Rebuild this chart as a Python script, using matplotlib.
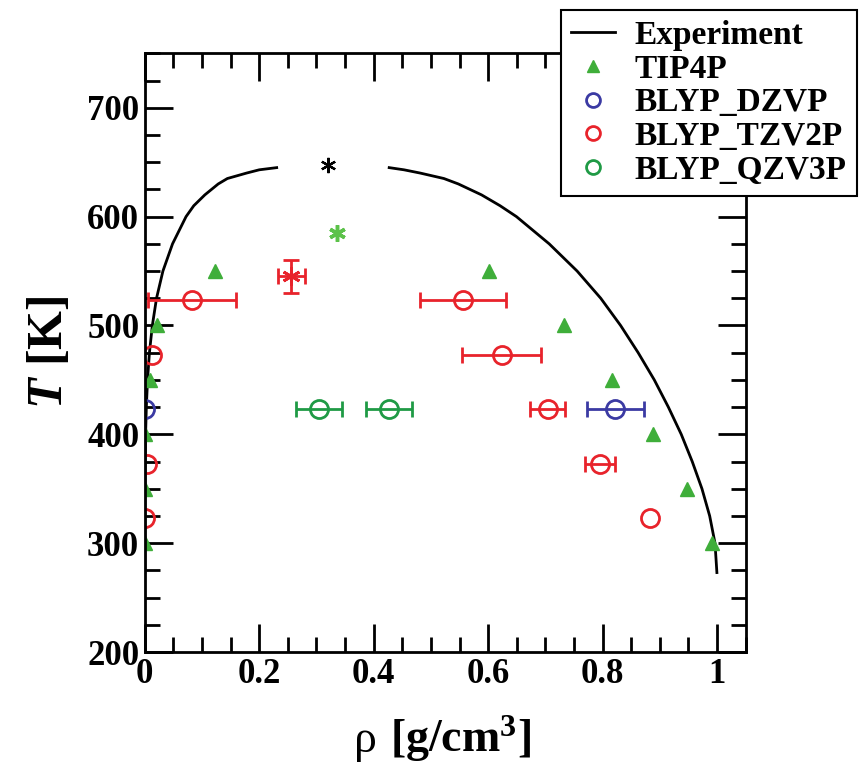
import numpy as np
import matplotlib.pyplot as plt
from matplotlib.ticker import MultipleLocator, FormatStrFormatter
from matplotlib.lines import Line2D

plt.rcParams['font.family'] = ['Liberation Serif', 'DejaVu Serif']
plt.rcParams['font.weight'] = 'bold'
plt.rcParams['mathtext.fontset'] = 'custom'
plt.rcParams['mathtext.rm'] = 'Liberation Serif:bold'
plt.rcParams['mathtext.it'] = 'Liberation Serif:italic:bold'

# experimental coexistence curve (liquid / vapour branches)
exp_T = [273, 300, 325, 350, 375, 400, 425, 450, 475, 500, 525, 550, 575,
         600, 610, 620, 630, 635, 640, 643, 645]
exp_liq = [0.9998, 0.9965, 0.9872, 0.9737, 0.9567, 0.9375, 0.9150, 0.8904,
           0.8622, 0.8315, 0.7968, 0.7555, 0.7067, 0.6495, 0.6209, 0.5884,
           0.5480, 0.5227, 0.4814, 0.4530, 0.4271]
exp_vap = [0.0, 0.00003, 0.0001, 0.0003, 0.0007, 0.0014, 0.0027, 0.0048,
           0.0081, 0.0132, 0.0205, 0.0317, 0.0485, 0.0721, 0.0856, 0.1050,
           0.1283, 0.1443, 0.1778, 0.2000, 0.2305]
exp_crit = (0.32, 647)

# TIP4P
tip_rho = [0.0, 0.0, 0.0, 0.009, 0.021, 0.122, 0.601, 0.732, 0.817, 0.888, 0.948, 0.992]
tip_T = [300, 350, 400, 450, 500, 550, 550, 500, 450, 400, 350, 300]
tip_crit = (0.336, 585)

# BLYP_DZVP
dzvp_rho = [0.0]
dzvp_T = [423]
dzvp_eb_rho = [0.822]
dzvp_eb_T = [423]
dzvp_eb_err = [0.05]

# BLYP_TZV2P
tzv_rho = [0.0, 0.003, 0.012, 0.883]
tzv_T = [323, 373, 473, 323]
tzv_eb_rho = [0.082, 0.556, 0.624, 0.704, 0.796]
tzv_eb_T = [523, 523, 473, 423, 373]
tzv_eb_err = [0.077, 0.075, 0.069, 0.031, 0.026]
tzv_crit = (0.256, 545)
tzv_crit_xerr = 0.024
tzv_crit_yerr = 15

# BLYP_QZV3P
qzv_rho = [0.305, 0.427]
qzv_T = [423, 423]
qzv_err = [0.04, 0.04]

red = '#e8232b'
blue = '#3b3aa3'
green = '#1f9a45'
tgreen = '#3fae3a'

fig = plt.figure(figsize=(8.67, 7.73), dpi=100)
ax = fig.add_axes([0.167, 0.1565, 0.693, 0.7745])

ax.plot(exp_vap, exp_T, 'k-', lw=2)
ax.plot(exp_liq, exp_T, 'k-', lw=2)
ax.plot([exp_crit[0]], [exp_crit[1]], 'k', marker=(6, 2, 0), ms=11, mew=1.6, ls='none')

ax.plot(tip_rho, tip_T, '^', color=tgreen, ms=10, ls='none')
ax.plot([tip_crit[0]], [tip_crit[1]], marker=(6, 2, 0), color='#5cc24a', ms=12, mew=2.5, ls='none')

mkw = dict(ls='none', ms=13, mew=2, mfc='none')
ekw = dict(ls='none', capsize=6, elinewidth=2, capthick=2, ms=13, mew=2, mfc='none')

ax.plot(dzvp_rho, dzvp_T, 'o', mec=blue, **mkw)
ax.errorbar(dzvp_eb_rho, dzvp_eb_T, xerr=dzvp_eb_err, fmt='o', color=blue, mec=blue, **ekw)

ax.plot(tzv_rho, tzv_T, 'o', mec=red, **mkw)
ax.errorbar(tzv_eb_rho, tzv_eb_T, xerr=tzv_eb_err, fmt='o', color=red, mec=red, **ekw)
ax.errorbar([tzv_crit[0]], [tzv_crit[1]], xerr=tzv_crit_xerr, yerr=tzv_crit_yerr,
            fmt='none', ecolor=red, capsize=6, elinewidth=2, capthick=2)
ax.plot([tzv_crit[0]], [tzv_crit[1]], marker=(6, 2, 0), color=red, ms=13, mew=2, ls='none')

ax.errorbar(qzv_rho, qzv_T, xerr=qzv_err, fmt='o', color=green, mec=green, **ekw)

ax.set_xlim(0, 1.05)
ax.set_ylim(200, 750)
ax.xaxis.set_major_locator(MultipleLocator(0.2))
ax.xaxis.set_minor_locator(MultipleLocator(0.05))
ax.yaxis.set_major_locator(MultipleLocator(100))
ax.yaxis.set_minor_locator(MultipleLocator(25))
ax.xaxis.set_major_formatter(FormatStrFormatter('%g'))
ax.set_yticks([200, 300, 400, 500, 600, 700])
ax.tick_params(which='both', direction='in', top=True, right=True, width=2,
               labelsize=25, pad=4)
ax.tick_params(which='major', length=20)
ax.tick_params(which='minor', length=11)
for s in ax.spines.values():
    s.set_linewidth(2)

# x label: regular rho followed by bold unit text
ax.text(0.368, -0.167, 'ρ', transform=ax.transAxes, fontsize=33,
        fontweight='normal', ha='center', va='baseline')
ax.text(0.408, -0.167, '[g/cm$^3$]', transform=ax.transAxes, fontsize=33,
        fontweight='bold', ha='left', va='baseline')
ax.set_ylabel('$T$ [K]', fontsize=36, fontweight='bold', labelpad=10)

handles = [
    Line2D([], [], color='k', lw=2),
    Line2D([], [], marker='^', color=tgreen, ls='none', ms=9),
    Line2D([], [], marker='o', mec=blue, mfc='none', mew=2, ls='none', ms=10),
    Line2D([], [], marker='o', mec=red, mfc='none', mew=2, ls='none', ms=10),
    Line2D([], [], marker='o', mec=green, mfc='none', mew=2, ls='none', ms=10),
]
labels = ['Experiment', 'TIP4P', 'BLYP_DZVP', 'BLYP_TZV2P', 'BLYP_QZV3P']
leg = fig.legend(handles, labels, loc='upper right', bbox_to_anchor=(0.988, 0.987),
                 borderaxespad=0, fontsize=24, frameon=True, fancybox=False,
                 edgecolor='k', framealpha=1, handlelength=1.3, handletextpad=0.6,
                 labelspacing=0.08, borderpad=0.3)
leg.get_frame().set_linewidth(1.5)

plt.savefig('out.png', dpi=100)
